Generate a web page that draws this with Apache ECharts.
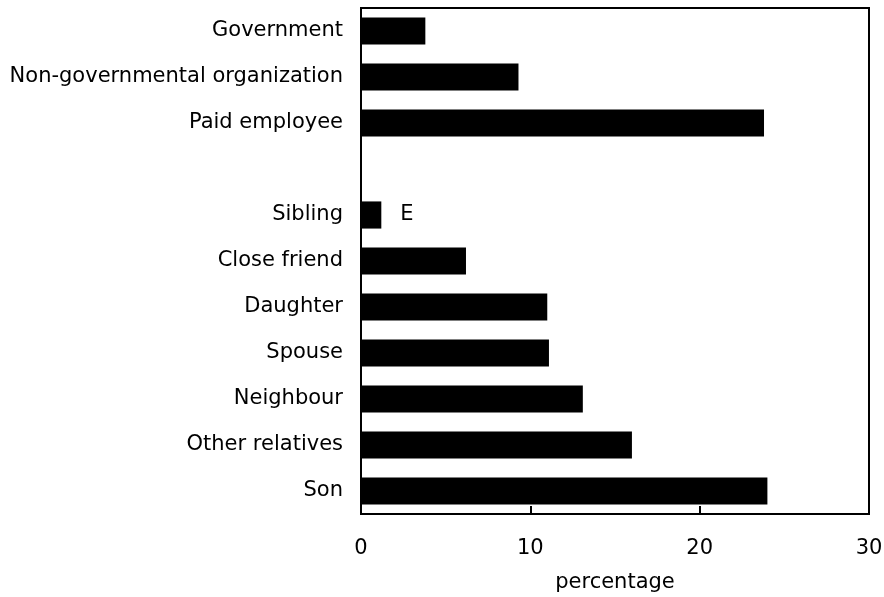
<!DOCTYPE html>
<html>
<head>
<meta charset="utf-8">
<script src="https://cdn.jsdelivr.net/npm/echarts@6/dist/echarts.min.js"></script>
<style>
  html, body { margin: 0; padding: 0; background: #fff; }
  #main { width: 884px; height: 597px; }
</style>
</head>
<body>
<div id="main"></div>
<script>
// categories top to bottom, '' is the empty spacer row
const categories = ['Government', 'Non-governmental organization', 'Paid employee', '',
  'Sibling', 'Close friend', 'Daughter', 'Spouse', 'Neighbour', 'Other relatives', 'Son']
const values = [3.8, 9.3, 23.8, null, 1.2, 6.2, 11.0, 11.1, 13.1, 16.0, 24.0]
const flags = ['', '', '', '', 'E', '', '', '', '', '', '']
const xTicks = [0, 10, 20, 30]

const font = 'DejaVu Sans'

const chart = echarts.init(document.getElementById('main'), null, { renderer: 'canvas' })

const seriesData = values.map(function (v, i) {
  const item = { value: v }
  if (flags[i]) {
    item.label = {
      show: true,
      position: 'right',
      distance: 19,
      formatter: flags[i],
      color: '#000',
      fontFamily: font,
      fontSize: 21
    }
  }
  return item
})

chart.setOption({
  animation: false,
  grid: {
    left: 361,
    right: 15,
    top: 8,
    bottom: 83,
    containLabel: false,
    outerBoundsMode: 'none',
    show: true,
    borderColor: '#000',
    borderWidth: 2,
    backgroundColor: 'transparent'
  },
  xAxis: {
    type: 'value',
    min: xTicks[0],
    max: xTicks[xTicks.length - 1],
    interval: 10,
    name: 'percentage',
    nameLocation: 'middle',
    nameGap: 58,
    nameTextStyle: { color: '#000', fontFamily: font, fontSize: 21 },
    axisLine: { show: true, lineStyle: { color: '#000', width: 2 } },
    axisTick: { show: true, inside: true, length: 8, lineStyle: { color: '#000', width: 2 } },
    axisLabel: { color: '#000', fontFamily: font, fontSize: 21, margin: 24 },
    splitLine: { show: false }
  },
  yAxis: {
    type: 'category',
    inverse: true,
    data: categories,
    axisLine: { show: true, lineStyle: { color: '#000', width: 2 } },
    axisTick: { show: false },
    axisLabel: { color: '#000', fontFamily: font, fontSize: 21, margin: 18 }
  },
  series: [{
    type: 'bar',
    data: seriesData,
    barCategoryGap: '41%',
    itemStyle: { color: '#000' }
  }]
})
</script>
</body>
</html>
